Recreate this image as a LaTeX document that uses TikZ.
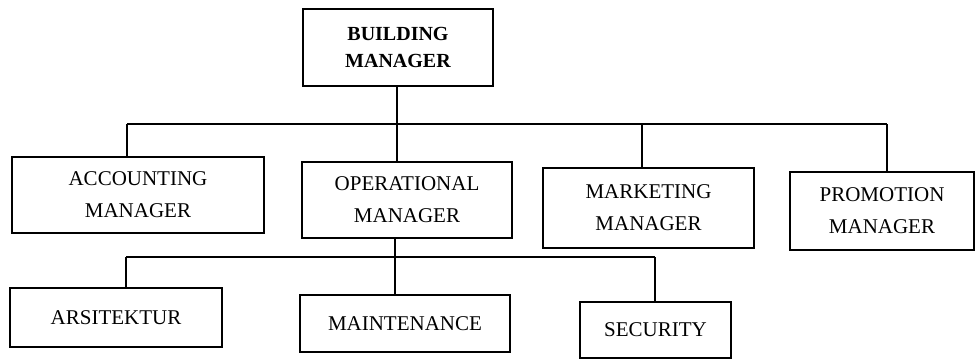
\documentclass[tikz,border=0pt]{standalone}
\usepackage{fontspec}
\setmainfont{Liberation Serif}
\begin{document}
\begin{tikzpicture}[x=1pt,y=-1pt,
  box/.style={draw=black,line width=1.2pt,align=center,inner sep=0pt,
    font=\fontsize{21}{32}\selectfont},
  conn/.style={line width=1.2pt}]
\useasboundingbox (0,0) rectangle (976,361);
\node[box,minimum width=190pt,minimum height=77pt,font=\bfseries\fontsize{20}{27}\selectfont] (bm) at (398,47.5) {BUILDING\\MANAGER};
\node[box,minimum width=252pt,minimum height=76pt] (acc) at (138,195) {ACCOUNTING\\MANAGER};
\node[box,minimum width=210pt,minimum height=76pt] (op) at (407,200) {OPERATIONAL\\MANAGER};
\node[box,minimum width=211pt,minimum height=80pt] (mkt) at (648.5,208) {MARKETING\\MANAGER};
\node[box,minimum width=184pt,minimum height=78pt] (pro) at (882,211) {PROMOTION\\MANAGER};
\node[box,minimum width=212pt,minimum height=59pt] (ars) at (116,317.5) {ARSITEKTUR};
\node[box,minimum width=210pt,minimum height=57pt] (mnt) at (405,323.5) {MAINTENANCE};
\node[box,minimum width=151pt,minimum height=56pt] (sec) at (655.5,330) {SECURITY};
% upper bus
\coordinate (busL) at (127,124);
\coordinate (busM) at (397,124);
\coordinate (busK) at (642,124);
\coordinate (busR) at (887,124);
\draw[conn] (bm.south -| busM) -- (busM);
\draw[conn] (busL) -- (busR);
\draw[conn] (busL) -- (busL |- acc.north);
\draw[conn] (busM) -- (busM |- op.north);
\draw[conn] (busK) -- (busK |- mkt.north);
\draw[conn] (busR) -- (busR |- pro.north);
% lower bus
\coordinate (lbL) at (126,257);
\coordinate (lbM) at (395,257);
\coordinate (lbR) at (655,257);
\draw[conn] (op.south -| lbM) -- (lbM);
\draw[conn] (lbL) -- (lbR);
\draw[conn] (lbL) -- (lbL |- ars.north);
\draw[conn] (lbM) -- (lbM |- mnt.north);
\draw[conn] (lbR) -- (lbR |- sec.north);
\end{tikzpicture}
\end{document}
